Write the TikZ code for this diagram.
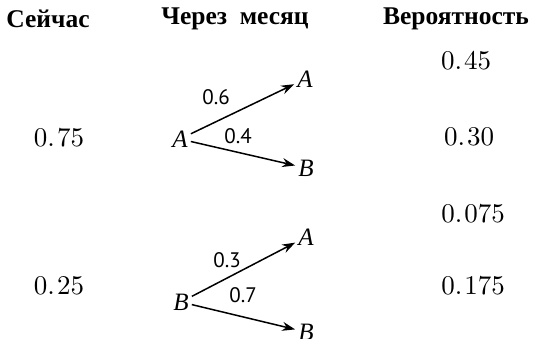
\documentclass[tikz,border=0pt]{standalone}
\usepackage{fontspec}
\setmainfont{Liberation Serif}
\newfontfamily\lblfont{PT Sans}
\newfontfamily\numfont{lmroman10-regular.otf}
\newcommand{\pt}{.\kern2pt}
\usetikzlibrary{arrows.meta}
\tikzset{
  head/.style={font=\fontsize{25.5}{28}\selectfont\bfseries},
  num/.style={font=\numfont\fontsize{27}{30}\selectfont},
  st/.style={font=\fontsize{25}{28}\selectfont\itshape, inner sep=3pt},
  pl/.style={font=\lblfont\fontsize{21}{24}\selectfont, inner sep=0pt},
  arr/.style={line width=1.5pt, -{Stealth[length=13pt,width=9pt]}}
}
\begin{document}
\begin{tikzpicture}[x=1pt,y=-1pt]
\useasboundingbox (0,0) rectangle (545,338);
\node[head] (h1) at (48,19) {Сейчас};
\node[head] (h2) at (235,19) {Через\ \ месяц};
\node[head] (h3) at (456,19) {Вероятность};
\node[num] (p1) at (466,61) {0\pt45};
\node[num] (p2) at (469,137) {0\pt30};
\node[num] (p3) at (473,214) {0\pt075};
\node[num] (p4) at (473,286) {0\pt175};
\node[num] (n1) at (59,138) {0\pt75};
\node[num] (n2) at (59,286) {0\pt25};
\node[st] (a) at (180,139) {A};
\node[st] (aa) at (305,79) {A};
\node[st] (ab) at (306,168) {B};
\node[st] (b) at (181,302) {B};
\node[st] (ba) at (306,237) {A};
\node[st] (bb) at (306,332) {B};
\draw[arr] (a) -- (aa);
\draw[arr] (a) -- (ab);
\draw[arr] (b) -- (ba);
\draw[arr] (b) -- (bb);
\node[pl] (l1) at (216,97) {0.6};
\node[pl] (l2) at (238,136) {0.4};
\node[pl] (l3) at (227,260) {0.3};
\node[pl] (l4) at (243,295) {0.7};
\end{tikzpicture}
\end{document}
